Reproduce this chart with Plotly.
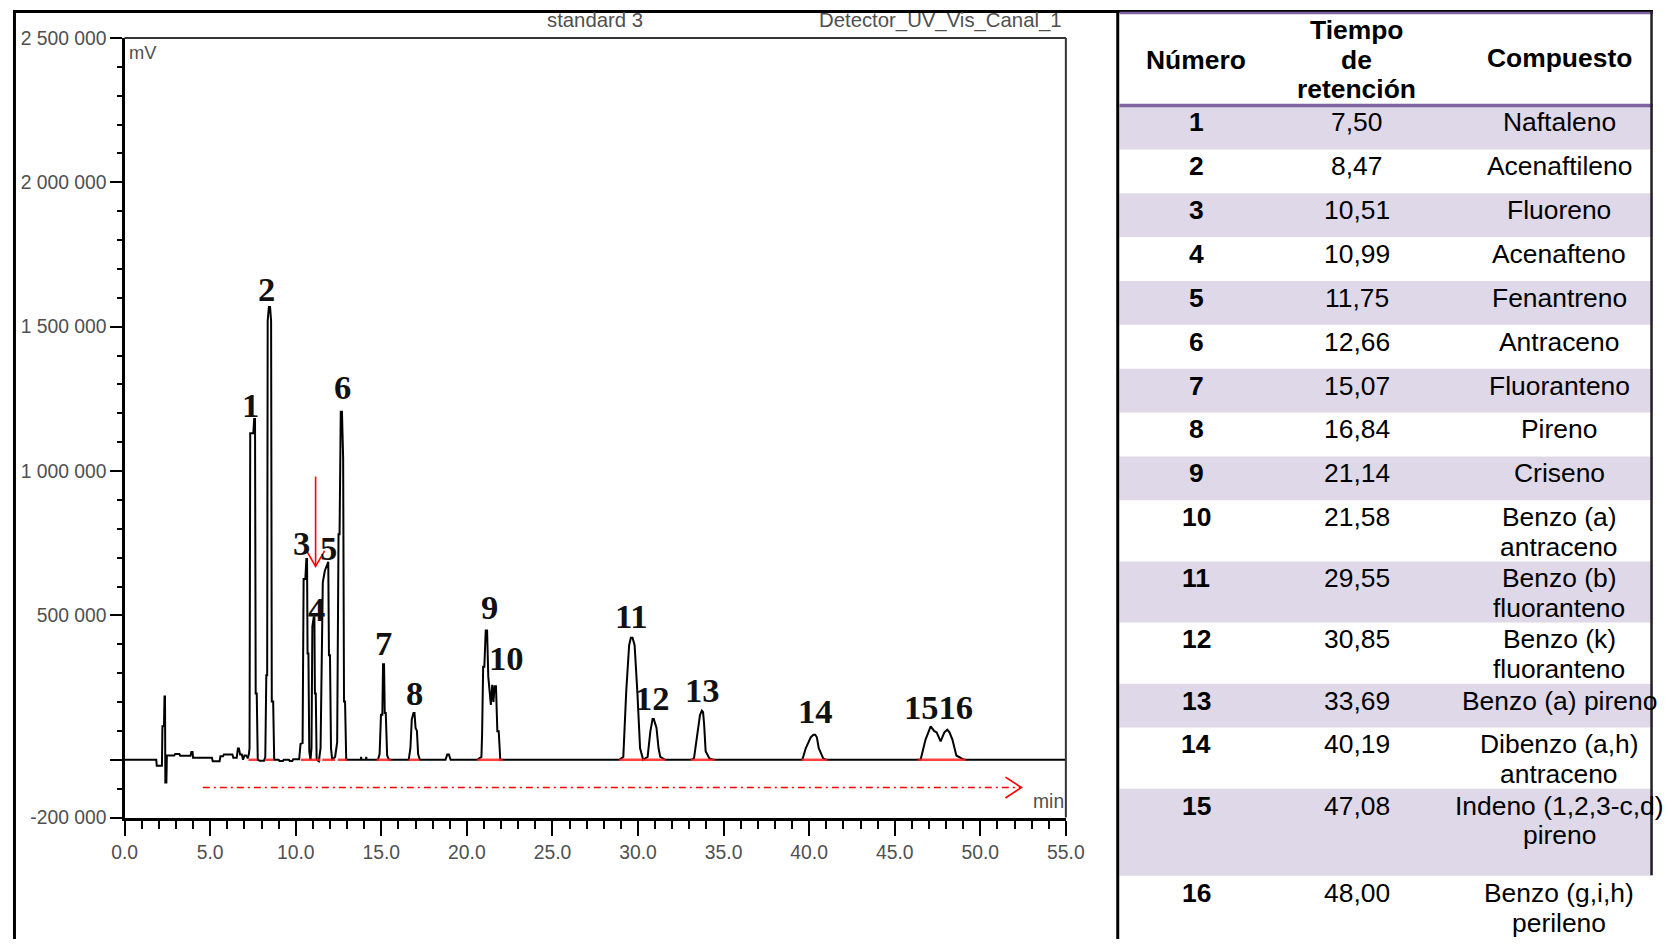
import plotly.graph_objects as go

W, H = 1672, 950
# The photographed page shows the figure scaled by S and shifted by (OX, OY);
# all geometry below is given in reference-picture pixels and mapped back through this.
S, OX, OY = 0.9834, 13.9, 7.9

# ---------------- chromatogram data (min, mV) ----------------
TIME = [0.00, 1.85, 1.88, 2.18, 2.21, 2.30, 2.33, 2.36, 2.38, 2.44, 2.47, 2.90, 2.95, 3.20, 3.25,
        3.85, 3.90, 3.97, 4.00, 5.10, 5.15, 5.55, 5.60, 5.75, 5.80, 6.30, 6.35, 6.55, 6.62, 6.68,
        6.75, 6.85, 6.92, 7.00, 7.10, 7.20,
        7.26, 7.30, 7.34, 7.52, 7.57, 7.62, 7.66, 7.72, 7.78, 7.90, 8.15,
        8.22, 8.28, 8.33, 8.36, 8.43, 8.50, 8.56, 8.60, 8.68, 8.74,
        9.00, 9.05, 9.25, 9.30, 9.60, 9.65, 9.80, 9.85, 10.20,
        10.28, 10.40, 10.46, 10.56, 10.62, 10.66, 10.69, 10.74, 10.79, 10.86,
        10.92, 10.97, 11.05, 11.09, 11.12, 11.17, 11.22, 11.35,
        11.45, 11.58, 11.70, 11.86, 11.90, 11.94, 12.00, 12.06, 12.13, 12.30,
        12.42, 12.50, 12.56, 12.63, 12.70, 12.77, 12.82, 12.88, 12.95,
        13.80, 13.82, 13.84, 14.10, 14.12, 14.14,
        14.80, 14.90, 14.98, 15.06, 15.10, 15.16, 15.20, 15.26, 15.34, 15.45,
        16.60, 16.70, 16.78, 16.88, 16.94, 17.00, 17.08, 17.15, 17.25,
        18.75, 18.85, 18.95, 19.05,
        20.60, 20.85, 20.89, 20.95, 21.02, 21.10, 21.18, 21.25, 21.32, 21.40, 21.48, 21.55,
        21.62, 21.70, 21.78, 21.86, 21.95,
        28.90, 29.14, 29.31, 29.48, 29.58, 29.68, 29.80, 29.96, 30.12, 30.30, 30.40,
        30.56, 30.72, 30.85, 30.92, 31.08, 31.20, 31.30, 31.58,
        33.10, 33.27, 33.49, 33.62, 33.73, 33.80, 33.86, 33.95, 34.17, 34.40,
        39.60, 39.80, 40.09, 40.25, 40.35, 40.45, 40.56, 40.82, 41.00,
        46.51, 46.80, 47.10, 47.30, 47.45, 47.68, 47.90, 48.07, 48.20, 48.37, 48.60, 48.90,
        49.10, 55.00]
SIGNAL = [0, 0, -21000, -21000, 116000, 116000, 219000, 219000, -79000, -79000, 15000, 15000,
          20000, 20000, 14000,
          14000, 27000, 27000, 7000, 7000, -5000, -5000, 12000, 12000, 18000, 18000, 7000, 7000,
          39000, 39000,
          18000, 18000, 0, 15000, 15000, 5000,
          20000, 40000, 1131000, 1131000, 1180000, 1180000, 230000, 230000, 0, -3000, -3000,
          10000, 293000, 293000, 1520000, 1568000, 1568000, 1520000, 202000, 202000, 0,
          0, -4000, -4000, 0, 0, -4000, -4000, 2000, 2000,
          55000, 58000, 626000, 626000, 695000, 695000, 368000, 368000, 30000, 0,
          40000, 461000, 494000, 494000, 230000, 230000, 0, -5000,
          40000, 614700, 654700, 685600, 685600, 362000, 362000, 40000, 0, 10000,
          60000, 781000, 781000, 1205000, 1205000, 1044700, 202000, 202000, 0,
          0, 10000, 0, 0, 10000, 0,
          0, 20000, 156000, 156000, 331000, 331000, 162000, 162000, 15000, 0,
          0, 40000, 140000, 162000, 162000, 110000, 100000, 20000, 0,
          0, 18000, 18000, 0,
          0, 10000, 93000, 322000, 322000, 448000, 448000, 288000, 230000, 190000, 260000, 200000,
          255000, 255000, 98700, 98700, 0,
          0, 10000, 236000, 397000, 423000, 423000, 397000, 236000, 40000, 0, 5000,
          10000, 98700, 141000, 141000, 110000, 40000, 10000, 0,
          0, 5000, 98700, 155000, 170000, 165000, 125000, 30000, 5000, 0,
          0, 40000, 78000, 87000, 87000, 78000, 40000, 5000, 0,
          0, 70000, 116000, 100000, 95000, 64000, 95000, 104000, 95000, 70000, 15000, 5000,
          0, 0]

# integration baselines (red) under peaks, min
INTEG_START = [7.24, 8.20, 10.30, 11.55, 12.45, 14.73, 16.60, 20.60, 28.90, 33.08, 39.55, 46.34]
INTEG_END = [7.75, 8.70, 11.45, 12.30, 13.00, 15.56, 17.23, 22.10, 31.60, 34.49, 41.06, 49.14]

# peak number labels
LABEL_TEXT = ["1", "2", "3", "4", "5", "6", "7", "8", "9", "10", "11", "12", "13", "14", "1516"]
LABEL_T = [7.34, 8.28, 10.36, 11.22, 11.90, 12.76, 15.10, 16.91, 21.32, 22.29, 29.63, 30.86,
           33.79, 40.35, 47.53]
LABEL_V = [1228000, 1629500, 752000, 523000, 735000, 1291000, 406000, 230500, 528700, 350900,
           497700, 213300, 241900, 167400, 184600]

# red annotation arrows
ARROW_T, ARROW_FROM, ARROW_TO = 11.16, 981000, 670000
FLOW_START, FLOW_END, FLOW_LEVEL = 4.57, 52.4, -96000

# axis ticks
X_TICKS = [0, 5, 10, 15, 20, 25, 30, 35, 40, 45, 50, 55]
X_TICK_TEXT = ["0.0", "5.0", "10.0", "15.0", "20.0", "25.0", "30.0", "35.0", "40.0", "45.0",
               "50.0", "55.0"]
Y_TICKS = [-200000, 0, 500000, 1000000, 1500000, 2000000, 2500000]
Y_TICK_TEXT = ["-200 000", "", "500 000", "1 000 000", "1 500 000", "2 000 000", "2 500 000"]

# table
PEAK_NUM = list(range(1, 17))
RET_TIME = [7.50, 8.47, 10.51, 10.99, 11.75, 12.66, 15.07, 16.84, 21.14, 21.58, 29.55, 30.85,
            33.69, 40.19, 47.08, 48.00]
COMPOUND = ["Naftaleno", "Acenaftileno", "Fluoreno", "Acenafteno", "Fenantreno", "Antraceno",
            "Fluoranteno", "Pireno", "Criseno", "Benzo (a)<br>antraceno",
            "Benzo (b)<br>fluoranteno", "Benzo (k)<br>fluoranteno", "Benzo (a) pireno",
            "Dibenzo (a,h)<br>antraceno", "Indeno (1,2,3-c,d)<br>pireno",
            "Benzo (g,i,h)<br>perileno"]
HEADERS = ["Número", "Tiempo<br>de<br>retención", "Compuesto"]

# ---------------- layout geometry (reference pixels) ----------------
PLOT_L, PLOT_R, PLOT_T, PLOT_B = 125.8, 1069.5, 36.0, 820.0
X_RANGE = [0, 55]
Y_RANGE = [-200000, 2500000]


def fx(r):
    return ((r - OX) / S) / W


def fy(r):
    return 1 - ((r - OY) / S) / H


def sz(v):
    return v / S


def dt(px):
    return px * (X_RANGE[1] - X_RANGE[0]) / (PLOT_R - PLOT_L)


def dv(px):
    return px * (Y_RANGE[1] - Y_RANGE[0]) / (PLOT_B - PLOT_T)


REF_RIGHT = OX + S * W      # reference x shown at the figure's right edge
REF_BOTTOM = OY + S * H     # reference y shown at the figure's bottom edge
REF_LEFT, REF_TOP = OX, OY

TBL_L = 1123
HEADER_TOP, HEADER_BOT = 10, 104
ROW_LINES = [1] * 9 + [2, 2, 2, 1, 2, 3, 2]
ROW_HEIGHT = {1: 44.1, 2: 61.5, 3: 87.6}
COL_X = [1200, 1361, 1564]
SHADE = "#DED8E8"
PURPLE = "#8064A2"
SANS = "Liberation Sans, Arial, sans-serif"
SERIF = "Liberation Serif, Times New Roman, serif"
GRAY = "#505050"

fig = go.Figure()

fig.add_trace(go.Scatter(x=TIME, y=SIGNAL, mode="lines", line=dict(color="black", width=2),
                         hoverinfo="skip", showlegend=False))

ix, iy = [], []
for s, e in zip(INTEG_START, INTEG_END):
    ix += [s, e, None]
    iy += [0, 0, None]
fig.add_trace(go.Scatter(x=ix, y=iy, mode="lines", line=dict(color="rgba(255,30,30,0.85)", width=2.5),
                         hoverinfo="skip", showlegend=False))

# dash-dot flow arrow
fig.add_trace(go.Scatter(x=[FLOW_START, FLOW_END], y=[FLOW_LEVEL, FLOW_LEVEL], mode="lines",
                         line=dict(color="#ff0000", width=1.6, dash="7px,4px,2px,4px"),
                         hoverinfo="skip", showlegend=False))
fig.add_trace(go.Scatter(x=[FLOW_END - dt(16), FLOW_END, FLOW_END - dt(16)],
                         y=[FLOW_LEVEL + dv(10.5), FLOW_LEVEL, FLOW_LEVEL - dv(10.5)],
                         mode="lines", line=dict(color="#ff0000", width=1.6),
                         hoverinfo="skip", showlegend=False))
# down arrow
fig.add_trace(go.Scatter(x=[ARROW_T, ARROW_T], y=[ARROW_FROM, ARROW_TO], mode="lines",
                         line=dict(color="#ff0000", width=1.6), hoverinfo="skip", showlegend=False))
fig.add_trace(go.Scatter(x=[ARROW_T - dt(9), ARROW_T, ARROW_T + dt(9)],
                         y=[ARROW_TO + dv(15.6), ARROW_TO, ARROW_TO + dv(15.6)], mode="lines",
                         line=dict(color="#ff0000", width=1.6), hoverinfo="skip", showlegend=False))

# dummy trace for table axes
fig.add_trace(go.Scatter(x=[TBL_L + 10], y=[HEADER_TOP + 20], xaxis="x2", yaxis="y2",
                         mode="markers", marker=dict(opacity=0), hoverinfo="skip",
                         showlegend=False))

annotations = []
for txt, t, v in zip(LABEL_TEXT, LABEL_T, LABEL_V):
    annotations.append(dict(x=t, y=v, xref="x", yref="y", text="<b>%s</b>" % txt, showarrow=False,
                            xanchor="center", yanchor="middle",
                            font=dict(family=SERIF, size=sz(34), color="#111111")))

annotations += [
    dict(x=fx(PLOT_L + 2), y=fy(51), xref="paper", yref="paper", text="mV", showarrow=False,
         xanchor="left", yanchor="middle", font=dict(family=SANS, size=sz(18), color=GRAY)),
    dict(x=fx(1070), y=fy(804), xref="paper", yref="paper", text="min", showarrow=False,
         xanchor="right", yanchor="middle", font=dict(family=SANS, size=sz(19), color=GRAY)),
    dict(x=fx(597), y=fy(18), xref="paper", yref="paper", text="standard 3", showarrow=False,
         xanchor="center", yanchor="middle", font=dict(family=SANS, size=sz(20), color=GRAY)),
    dict(x=fx(1068), y=fy(18), xref="paper", yref="paper", text="Detector_UV_Vis_Canal_1",
         showarrow=False, xanchor="right", yanchor="middle",
         font=dict(family=SANS, size=sz(20), color=GRAY)),
]

shapes = [
    # top and right frame of the chromatogram
    dict(type="line", xref="x domain", yref="y domain", x0=0, x1=1, y0=1, y1=1,
         line=dict(color="#333333", width=2)),
    dict(type="line", xref="x domain", yref="y domain", x0=1, x1=1, y0=0, y1=1,
         line=dict(color="#333333", width=2)),
    # outer borders (as close to the reference position as the figure edge allows)
    dict(type="line", xref="paper", yref="paper", x0=1.5 / W, x1=1.5 / W, y0=0, y1=1,
         line=dict(color="black", width=3)),
    dict(type="line", xref="paper", yref="paper", x0=0, x1=1, y0=1 - 1.5 / H, y1=1 - 1.5 / H,
         line=dict(color="black", width=3)),
    dict(type="line", xref="paper", yref="paper", x0=fx(1121.5), x1=fx(1121.5), y0=0, y1=1,
         line=dict(color="black", width=3)),
]

# table rows (x2/y2 axes are in reference pixels)
top = HEADER_BOT
for i, (n, rt, comp) in enumerate(zip(PEAK_NUM, RET_TIME, COMPOUND)):
    h = ROW_HEIGHT[ROW_LINES[i]]
    if i % 2 == 0:
        shapes.append(dict(type="rect", xref="x2", yref="y2", x0=TBL_L, x1=REF_RIGHT, y0=top,
                           y1=min(top + h, REF_BOTTOM), fillcolor=SHADE, line=dict(width=0),
                           layer="below"))
    cells = [("<b>%d</b>" % n, COL_X[0]), (("%.2f" % rt).replace(".", ","), COL_X[1])]
    for txt, cx in cells:
        annotations.append(dict(x=cx, y=top + 17, xref="x2", yref="y2", text=txt, showarrow=False,
                                xanchor="center", yanchor="middle",
                                font=dict(family=SANS, size=sz(26), color="black")))
    for k, line in enumerate(comp.split("<br>")):
        annotations.append(dict(x=COL_X[2], y=top + 17 + 30 * k, xref="x2", yref="y2", text=line,
                                showarrow=False, xanchor="center", yanchor="middle",
                                font=dict(family=SANS, size=sz(26), color="black")))
    top += h

# header
header_centers = [58, 58, 56]
for hdr, cx, cy in zip(HEADERS, COL_X, header_centers):
    lines = hdr.split("<br>")
    n = len(lines)
    for k, line in enumerate(lines):
        annotations.append(dict(x=cx, y=cy + (k - (n - 1) / 2) * 29.5, xref="x2", yref="y2",
                                text="<b>%s</b>" % line, showarrow=False, xanchor="center",
                                yanchor="middle",
                                font=dict(family=SANS, size=sz(26), color="black")))

shapes += [
    dict(type="line", xref="x2", yref="y2", x0=TBL_L, x1=REF_RIGHT, y0=HEADER_TOP + 1,
         y1=HEADER_TOP + 1, line=dict(color=PURPLE, width=2.5)),
    dict(type="line", xref="x2", yref="y2", x0=TBL_L, x1=REF_RIGHT, y0=HEADER_BOT, y1=HEADER_BOT,
         line=dict(color=PURPLE, width=3.5)),
    dict(type="line", xref="paper", yref="y2", x0=1 - 1.5 / W, x1=1 - 1.5 / W, y0=HEADER_TOP,
         y1=878, line=dict(color="#222222", width=2.5)),
]

fig.update_layout(
    width=W, height=H, autosize=False,
    margin=dict(l=0, r=0, t=0, b=0, pad=0),
    paper_bgcolor="white", plot_bgcolor="white",
    showlegend=False,
    xaxis=dict(domain=[fx(PLOT_L), fx(PLOT_R)], range=X_RANGE, tickmode="array", tickvals=X_TICKS,
               ticktext=X_TICK_TEXT, ticks="outside", ticklen=sz(15), tickwidth=2,
               tickcolor="black", showline=True, linecolor="black", linewidth=3, showgrid=False,
               zeroline=False, tickfont=dict(family=SANS, size=sz(19), color=GRAY), anchor="y",
               minor=dict(tickmode="linear", tick0=0, dtick=1, ticks="outside", ticklen=sz(8),
                          tickwidth=2, tickcolor="black", showgrid=False)),
    yaxis=dict(domain=[fy(PLOT_B), fy(PLOT_T)], range=Y_RANGE, tickmode="array",
               tickvals=Y_TICKS, ticktext=Y_TICK_TEXT, ticks="outside", ticklen=sz(11),
               tickwidth=2, tickcolor="black", showline=True, linecolor="black", linewidth=3,
               showgrid=False, zeroline=False,
               tickfont=dict(family=SANS, size=sz(19), color=GRAY), anchor="x",
               minor=dict(tickmode="linear", tick0=0, dtick=100000, ticks="outside",
                          ticklen=sz(5), tickwidth=2, tickcolor="black", showgrid=False)),
    xaxis2=dict(domain=[fx(TBL_L), 1], range=[TBL_L, REF_RIGHT], visible=False, anchor="y2",
                fixedrange=True),
    yaxis2=dict(domain=[0, 1], range=[REF_BOTTOM, REF_TOP], visible=False, anchor="x2",
                fixedrange=True),
    annotations=annotations,
    shapes=shapes,
)

fig.write_html("out.html", config={"displayModeBar": False})
